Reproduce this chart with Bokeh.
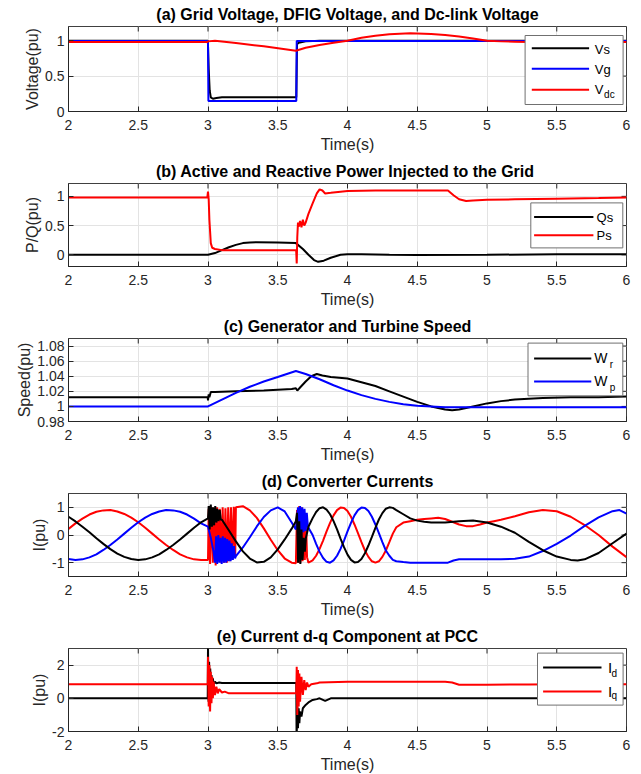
from bokeh.plotting import figure
from bokeh.layouts import column
from bokeh.models import Range1d, FixedTicker
from bokeh.core.properties import value
from bokeh.embed import file_html
from bokeh.resources import INLINE

FONT = "Liberation Sans"

# ---------------- data ----------------
x_ticks = [2, 2.5, 3, 3.5, 4, 4.5, 5, 5.5, 6]
x_tick_labels = ["2", "2.5", "3", "3.5", "4", "4.5", "5", "5.5", "6"]

# (a) voltages
t_vs = [2.0, 2.999, 3.005, 3.012, 3.02, 3.035, 3.06, 3.1, 3.3, 3.633, 3.638, 3.65, 3.7, 3.8, 6.0]
vs = [1.0, 1.0, 0.6, 0.3, 0.2, 0.18, 0.19, 0.2, 0.2, 0.2, 0.95, 0.97, 0.99, 1.0, 1.0]
t_vg = [2.0, 3.0, 3.003, 3.633, 3.636, 6.0]
vg = [0.995, 0.995, 0.15, 0.15, 0.995, 0.995]
t_vdc = [2.0, 2.995, 3.0, 3.05, 3.2, 3.4, 3.63, 3.7, 3.8, 3.9, 4.0, 4.1, 4.2, 4.3, 4.45,
         4.6, 4.7, 4.8, 4.9, 5.0, 5.1, 5.2, 5.3, 5.5, 6.0]
vdc = [0.98, 0.98, 0.99, 1.0, 0.966, 0.92, 0.857, 0.9, 0.94, 0.97, 1.0, 1.04, 1.07, 1.09, 1.105,
       1.095, 1.08, 1.06, 1.03, 1.0, 0.99, 0.985, 0.98, 0.98, 0.98]

# (b) powers
t_qs = [2.0, 3.0, 3.05, 3.1, 3.15, 3.2, 3.25, 3.3, 3.35, 3.5, 3.63, 3.68, 3.72, 3.76, 3.79,
        3.83, 3.88, 3.95, 4.0, 4.1, 4.3, 4.5, 5.0, 5.5, 6.0]
qs = [0.0, 0.0, 0.03, 0.08, 0.13, 0.17, 0.2, 0.21, 0.215, 0.21, 0.2, 0.1, 0.0, -0.09, -0.12,
      -0.1, -0.05, 0.0, 0.01, 0.01, 0.0, -0.005, 0.0, 0.01, 0.01]
t_ps = [2.0, 2.995, 3.0, 3.005, 3.01, 3.02, 3.03, 3.05, 3.1, 3.3, 3.5, 3.632, 3.636, 3.64,
        3.645, 3.65, 3.66, 3.67, 3.68, 3.69, 3.70, 3.72, 3.75, 3.78, 3.8, 3.82, 3.84, 3.88,
        3.95, 4.0, 4.2, 4.5, 4.7, 4.72, 4.76, 4.8, 4.85, 4.9, 5.0, 5.2, 5.5, 5.8, 6.0]
ps = [0.98, 0.98, 1.08, 0.95, 0.6, 0.2, 0.12, 0.1, 0.08, 0.08, 0.08, 0.08, -0.15, 0.3,
      0.55, 0.48, 0.58, 0.47, 0.6, 0.5, 0.55, 0.7, 0.88, 1.05, 1.12, 1.1, 1.05, 1.06,
      1.08, 1.09, 1.1, 1.1, 1.1, 1.1, 1.02, 0.95, 0.92, 0.93, 0.94, 0.95, 0.96, 0.97, 0.98]

# (c) speeds
t_wr = [2.0, 2.998, 3.0, 3.005, 3.01, 3.02, 3.05, 3.2, 3.4, 3.6, 3.63, 3.64, 3.66, 3.7, 3.74,
        3.78, 3.82, 3.88, 4.0, 4.1, 4.2, 4.3, 4.4, 4.5, 4.6, 4.7, 4.75, 4.8, 4.9, 5.0, 5.1,
        5.2, 5.3, 5.4, 5.6, 5.8, 6.0]
wr = [1.012, 1.012, 1.008, 1.016, 1.012, 1.019, 1.019, 1.02, 1.021, 1.023, 1.024, 1.021,
      1.025, 1.033, 1.04, 1.043, 1.041, 1.039, 1.037, 1.032, 1.027, 1.02, 1.013, 1.006,
      1.0, 0.996, 0.995, 0.996, 1.0, 1.004, 1.007, 1.009, 1.01, 1.011, 1.012, 1.012, 1.013]
t_wp = [2.0, 3.0, 3.1, 3.2, 3.3, 3.4, 3.5, 3.63, 3.7, 3.8, 3.9, 4.0, 4.1, 4.2, 4.3, 4.4,
        4.5, 4.6, 4.7, 5.0, 6.0]
wp = [1.0, 1.0, 1.009, 1.018, 1.026, 1.033, 1.039, 1.047, 1.043, 1.036, 1.028, 1.021,
      1.015, 1.01, 1.006, 1.003, 1.001, 1.0, 0.999, 0.999, 0.999]

# (d) converter currents (phase a red, phase b blue, phase c black)
t_ia = [2.0, 2.05, 2.1, 2.15, 2.2, 2.25, 2.3, 2.35, 2.4, 2.45, 2.5, 2.55, 2.6, 2.65, 2.7,
        2.75, 2.8, 2.85, 2.9, 2.95, 3.0,
        3.005, 3.015, 3.025, 3.035, 3.045, 3.055, 3.065, 3.075, 3.085, 3.095,
        3.105, 3.115, 3.125, 3.135, 3.145, 3.155, 3.165, 3.175, 3.185, 3.195,
        3.2, 3.25, 3.3, 3.35, 3.4, 3.45, 3.5, 3.55, 3.6, 3.63,
        3.638, 3.646, 3.654, 3.662, 3.670, 3.678, 3.686, 3.694, 3.702, 3.71,
        3.72, 3.75, 3.775, 3.8, 3.825, 3.85, 3.875, 3.9, 3.925, 3.95, 3.975, 4.0, 4.025,
        4.05, 4.075, 4.1, 4.125, 4.15, 4.175, 4.2, 4.225, 4.25, 4.275, 4.3, 4.325, 4.35,
        4.4, 4.45, 4.5, 4.55, 4.6, 4.65, 4.7, 4.75, 4.8, 4.85, 4.9, 4.95, 5.0, 5.05,
        5.1, 5.2, 5.3, 5.4, 5.5, 5.6, 5.7, 5.8, 5.9, 6.0]
ia = [0.22, 0.42, 0.59, 0.74, 0.84, 0.89, 0.90, 0.85, 0.76, 0.63, 0.46, 0.26, 0.05, -0.16, -0.36,
      -0.54, -0.70, -0.81, -0.88, -0.9, -0.9,
      0.95, -1.05, 1.0, -1.0, 0.98, -1.1, 1.0, -0.95, 0.95, -1.0,
      1.0, -1.0, 0.97, -1.0, 1.0, -0.95, 1.0, -0.9, 1.02, -0.8,
      1.0, 1.04, 0.89, 0.62, 0.24, -0.17, -0.55, -0.85, -1.0, -1.02,
      0.9, -1.0, 1.05, -1.0, 1.0, -0.95, 0.9, -0.9, 0.6, -0.8,
      -1.0, -0.92, -0.75, -0.5, -0.2, 0.13, 0.44, 0.71, 0.9, 0.99, 0.98, 0.87, 0.66,
      0.38, 0.07, -0.26, -0.56, -0.79, -0.95, -1.0, -0.95, -0.79, -0.56, -0.26, 0.05, 0.28,
      0.45, 0.5, 0.55, 0.58, 0.6, 0.62, 0.58, 0.48, 0.38, 0.32, 0.32, 0.38, 0.45, 0.5,
      0.55, 0.68, 0.82, 0.9, 0.86, 0.66, 0.36, 0.0, -0.42, -0.8]

t_ib = [2.0, 2.05, 2.1, 2.15, 2.2, 2.25, 2.3, 2.35, 2.4, 2.45, 2.5, 2.55, 2.6, 2.65, 2.7,
        2.75, 2.8, 2.85, 2.9, 2.95, 3.0,
        3.02, 3.04, 3.05, 3.058, 3.066, 3.074, 3.082, 3.09, 3.098, 3.106, 3.114, 3.122,
        3.13, 3.138, 3.146, 3.154, 3.162, 3.17, 3.178, 3.186, 3.194, 3.2,
        3.25, 3.3, 3.35, 3.4, 3.45, 3.5, 3.55, 3.6, 3.63,
        3.645, 3.652, 3.66, 3.668, 3.676, 3.684, 3.692, 3.7, 3.708, 3.716,
        3.75, 3.775, 3.8, 3.825, 3.85, 3.875, 3.9, 3.925, 3.95, 3.975, 4.0, 4.025, 4.05,
        4.075, 4.1, 4.125, 4.15, 4.175, 4.2, 4.225, 4.25, 4.275, 4.3, 4.325, 4.35, 4.4, 4.45,
        4.72, 4.76, 4.8, 5.1, 5.2, 5.3, 5.4, 5.5, 5.6, 5.7, 5.8, 5.9, 5.95, 6.0]
ib = [-0.87, -0.9, -0.88, -0.81, -0.70, -0.54, -0.36, -0.16, 0.05, 0.26, 0.46, 0.63, 0.76, 0.85, 0.90,
      0.89, 0.84, 0.74, 0.59, 0.42, 0.3,
      -0.1, -0.6, -1.0, -0.05, -1.05, 0.0, -1.0, -0.1, -1.05, -0.05, -1.0, -0.1,
      -1.0, -0.15, -0.95, -0.2, -0.95, -0.3, -0.9, -0.4, -0.85, -0.76,
      -0.45, -0.08, 0.31, 0.65, 0.89, 1.0, 0.85, 0.45, 0.2,
      1.0, 0.05, 1.05, 0.0, 1.0, 0.1, 0.95, 0.15, 0.8, 0.3,
      0.0, -0.32, -0.61, -0.83, -0.97, -1.0, -0.92, -0.75, -0.5, -0.2, 0.13, 0.44, 0.71,
      0.9, 0.99, 0.98, 0.87, 0.66, 0.38, 0.07, -0.26, -0.56, -0.75, -0.9, -0.95, -0.98, -1.0,
      -1.0, -0.92, -0.88, -0.88, -0.86, -0.78, -0.58, -0.32, -0.02, 0.33, 0.64, 0.86, 0.9, 0.77]

t_ic = [2.0, 2.05, 2.1, 2.15, 2.2, 2.25, 2.3, 2.35, 2.4, 2.45, 2.5, 2.55, 2.6, 2.65, 2.7,
        2.75, 2.8, 2.85, 2.9, 2.95, 3.0,
        3.005, 3.012, 3.02, 3.028, 3.036, 3.044, 3.052, 3.06, 3.068, 3.076, 3.084, 3.092, 3.1,
        3.15, 3.2, 3.25, 3.3, 3.35, 3.4, 3.45, 3.5, 3.55, 3.6, 3.63,
        3.638, 3.646, 3.654, 3.662, 3.67, 3.678, 3.686, 3.694, 3.702,
        3.72, 3.75, 3.775, 3.8, 3.825, 3.85, 3.875, 3.9, 3.925, 3.95, 3.975, 4.0, 4.025,
        4.05, 4.075, 4.1, 4.125, 4.15, 4.175, 4.2, 4.225, 4.25, 4.275, 4.3, 4.325, 4.35,
        4.4, 4.45, 4.5, 4.55, 4.6, 4.7, 4.8, 4.9, 5.0, 5.1, 5.2, 5.3, 5.4, 5.5, 5.6,
        5.65, 5.7, 5.8, 5.9, 6.0]
ic = [0.66, 0.49, 0.30, 0.10, -0.12, -0.32, -0.51, -0.67, -0.79, -0.87, -0.90, -0.88, -0.81, -0.70, -0.54,
      -0.36, -0.16, 0.05, 0.26, 0.46, 0.60,
      1.05, 0.2, 1.1, 0.3, 1.0, 0.35, 1.05, 0.45, 0.95, 0.5, 0.9, 0.55, 0.55,
      0.16, -0.23, -0.59, -0.85, -0.99, -0.97, -0.81, -0.52, -0.16, 0.23, 0.5,
      0.8, -1.0, 0.5, -1.05, 0.2, -0.9, -0.1, -0.6, -0.1,
      0.3, 0.61, 0.83, 0.97, 1.0, 0.92, 0.75, 0.5, 0.2, -0.13, -0.44, -0.71, -0.9,
      -0.99, -0.98, -0.87, -0.66, -0.38, -0.07, 0.26, 0.56, 0.79, 0.95, 1.0, 0.98, 0.9,
      0.75, 0.6, 0.52, 0.48, 0.45, 0.45, 0.5, 0.52, 0.45, 0.3, 0.08, -0.25, -0.55, -0.78, -0.9,
      -0.92, -0.88, -0.65, -0.3, 0.05]

# (e) d-q currents at PCC
t_id = [2.0, 2.998, 3.0, 3.004, 3.008, 3.012, 3.016, 3.02, 3.025, 3.03, 3.035, 3.04, 3.05,
        3.06, 3.08, 3.1, 3.633, 3.635, 3.64, 3.645, 3.65, 3.655, 3.66, 3.67, 3.68, 3.7,
        3.72, 3.75, 3.78, 3.8, 3.84, 3.88, 3.95, 6.0]
id_ = [0.0, 0.0, 3.2, -0.2, 2.2, 0.2, 1.8, 0.5, 1.4, 0.7, 1.2, 0.85, 1.0,
       0.9, 0.95, 0.92, 0.92, -2.5, -0.5, -1.8, -0.6, -1.5, -0.8, -1.1, -0.6, -0.4,
       -0.25, -0.1, -0.05, 0.0, -0.15, 0.0, 0.0, 0.0]
t_iq = [2.0, 2.998, 3.0, 3.005, 3.01, 3.015, 3.02, 3.025, 3.03, 3.035, 3.04, 3.05, 3.06,
        3.07, 3.08, 3.1, 3.12, 3.15, 3.633, 3.636, 3.64, 3.645, 3.65, 3.655, 3.66, 3.67,
        3.68, 3.69, 3.7, 3.71, 3.72, 3.74, 3.78, 3.8, 4.0, 4.7, 4.75, 4.8, 5.0, 5.3, 5.5, 6.0]
iq = [0.85, 0.85, 2.5, -0.5, 2.0, -0.8, 1.6, -0.3, 1.3, 0.0, 1.0, 0.2, 0.7,
      0.3, 0.55, 0.35, 0.4, 0.3, 0.3, 1.9, -1.0, 1.7, -0.5, 1.5, -0.2, 1.3,
      0.2, 1.1, 0.5, 0.95, 0.7, 0.85, 0.9, 0.95, 1.0, 1.0, 0.95, 0.82, 0.82, 0.83, 0.85, 0.85]

BLACK, BLUE, RED = "#000000", "#0000ff", "#ff0000"
AXC = "#262626"
FRAME_W = 558
TICK_LEN = 5


def make_fig(title, ylabel, y0, y1, yticks, ylabels, frame_h, top, bottom, xlab_standoff=3):
    p = figure(frame_width=FRAME_W, frame_height=frame_h, x_range=Range1d(2, 6),
               y_range=Range1d(y0, y1), output_backend="svg", toolbar_location=None,
               min_border_left=68, min_border_right=8, min_border_top=top,
               min_border_bottom=bottom, title=title)
    p.title.text_font = FONT
    p.title.text_font_size = "16px"
    p.title.text_font_style = "bold"
    p.title.text_color = "#000000"
    p.title.align = "center"
    p.title.standoff = 7
    p.title.offset = 0
    p.outline_line_color = "#404040"
    p.outline_line_width = 1
    p.background_fill_color = "white"
    p.border_fill_color = "white"

    xa = p.xaxis[0]
    xa.ticker = FixedTicker(ticks=x_ticks)
    xa.major_label_overrides = dict(zip(x_ticks, x_tick_labels))
    xa.axis_label = "Time(s)"
    ya = p.yaxis[0]
    ya.ticker = FixedTicker(ticks=yticks)
    ya.major_label_overrides = dict(zip(yticks, ylabels))
    ya.axis_label = ylabel
    for ax in (xa, ya):
        ax.major_tick_in = TICK_LEN
        ax.major_tick_out = 0
        ax.minor_tick_line_color = None
        ax.axis_line_color = AXC
        ax.major_tick_line_color = AXC
        ax.major_label_text_font = FONT
        ax.major_label_text_font_size = "14px"
        ax.major_label_text_color = AXC
        ax.axis_label_text_font = FONT
        ax.axis_label_text_font_size = "16px"
        ax.axis_label_text_font_style = "normal"
        ax.axis_label_text_color = AXC
    xa.major_label_standoff = 8
    xa.axis_label_standoff = xlab_standoff
    ya.major_label_standoff = 4
    ya.axis_label_standoff = 1

    # mirrored ticks on the top and right edges (box on)
    dy = (y1 - y0) * TICK_LEN / frame_h
    dx = 4.0 * TICK_LEN / FRAME_W
    p.segment(x0=x_ticks, y0=[y1] * len(x_ticks), x1=x_ticks, y1=[y1 - dy] * len(x_ticks),
              line_color=AXC, line_width=1)
    p.segment(x0=[6] * len(yticks), y0=yticks, x1=[6 - dx] * len(yticks), y1=yticks,
              line_color=AXC, line_width=1)

    p.xgrid.ticker = FixedTicker(ticks=x_ticks)
    p.ygrid.ticker = FixedTicker(ticks=yticks)
    for g in (p.xgrid[0], p.ygrid[0]):
        g.grid_line_color = "#e3e3e3"
        g.grid_line_width = 1
    p._geom = (y0, y1, frame_h)
    return p


def px(p, dx, dy):
    """convert an offset in pixels from the frame's top-left corner to data units"""
    y0, y1, fh = p._geom
    return 2 + dx * 4.0 / FRAME_W, y1 - dy * (y1 - y0) / fh


def legend_box(p, box, entries, fsize, subs=()):
    # box = (left, right, top, bottom) pixel offsets from the frame's top-left corner
    l, t = px(p, box[0], box[2])
    r, b = px(p, box[1], box[3])
    p.quad(left=[l], right=[r], top=[t], bottom=[b], fill_color="white", fill_alpha=1.0,
           line_color="#707070", line_width=1)
    for color, ly, lx0, lx1, label, tx, ty in entries:
        xa_, ya_ = px(p, lx0, ly)
        xb_, _ = px(p, lx1, ly)
        p.line([xa_, xb_], [ya_, ya_], line_color=color, line_width=2)
        xt, yt = px(p, tx, ty)
        p.text(x=[xt], y=[yt], text=[label], text_font=value(FONT),
               text_font_size=value(fsize), text_baseline="middle", text_align="left",
               text_color="#000000")
    for label, sx, sy in subs:
        xt, yt = px(p, sx, sy)
        p.text(x=[xt], y=[yt], text=[label], text_font=value(FONT),
               text_font_size=value("10px"), text_baseline="middle", text_align="left",
               text_color="#000000")


# ---- (a)
pa = make_fig("(a) Grid Voltage, DFIG Voltage, and Dc-link Voltage", "Voltage(pu)",
              0, 1.2, [0, 0.5, 1], ["0", "0.5", "1"], 85, 26, 46)
pa.line(t_vs, vs, line_color=BLACK, line_width=2)
pa.line(t_vg, vg, line_color=BLUE, line_width=2)
pa.line(t_vdc, vdc, line_color=RED, line_width=2)
legend_box(pa, (456.6, 554.6, 9, 78),
           [(BLACK, 21.7, 463.3, 520.6, "Vs", 526.3, 22.5),
            (BLUE, 42.3, 463.3, 520.6, "Vg", 526.3, 43.0),
            (RED, 63.3, 463.3, 520.6, "V", 526.3, 62.5)],
           "13px", subs=[("dc", 535.6, 68.0)])

# ---- (b)
pb = make_fig("(b) Active and Reactive Power Injected to  the Grid", "P/Q(pu)",
              -0.2, 1.22, [0, 0.5, 1], ["0", "0.5", "1"], 83, 26, 46)
pb.line(t_qs, qs, line_color=BLACK, line_width=2)
pb.line(t_ps, ps, line_color=RED, line_width=2)
legend_box(pb, (462.3, 554.3, 19.4, 64.4),
           [(BLACK, 33.4, 465.6, 524.9, "Qs", 528.1, 34.0),
            (RED, 51.7, 465.6, 524.9, "Ps", 528.1, 52.3)],
           "13px")

# ---- (c)
pc = make_fig("(c) Generator and Turbine Speed", "Speed(pu)",
              0.98, 1.09, [0.98, 1, 1.02, 1.04, 1.06, 1.08],
              ["0.98", "1", "1.02", "1.04", "1.06", "1.08"], 83, 26, 46)
pc.line(t_wr, wr, line_color=BLACK, line_width=2)
pc.line(t_wp, wp, line_color=BLUE, line_width=2)
legend_box(pc, (459.5, 554.3, 4.6, 57.3),
           [(BLACK, 20.0, 465.6, 522.8, "W", 525.7, 19.5),
            (BLUE, 43.0, 465.6, 522.8, "W", 525.7, 42.5)],
           "14px", subs=[("r", 541.3, 25.6), ("p", 541.3, 48.5)])

# ---- (d)
pd_ = make_fig("(d) Converter Currents", "I(pu)", -1.5, 1.5, [-1, 0, 1], ["-1", "0", "1"],
               83, 26, 46)
pd_.line(t_ia, ia, line_color=RED, line_width=2)
pd_.line(t_ib, ib, line_color=BLUE, line_width=2)
pd_.line(t_ic, ic, line_color=BLACK, line_width=2)

# ---- (e)
pe = make_fig("(e) Current d-q Component at PCC", "I(pu)", -2, 3, [-2, 0, 2], ["-2", "0", "2"],
              83, 26, 42)
pe.line(t_id, id_, line_color=BLACK, line_width=2)
pe.line(t_iq, iq, line_color=RED, line_width=2)
legend_box(pe, (469.0, 554.6, 4.6, 56.6),
           [(BLACK, 19.0, 474.6, 533.0, "I", 539.6, 18.5),
            (RED, 43.0, 474.6, 533.0, "I", 539.6, 42.5)],
           "15px", subs=[("d", 543.0, 24.6), ("q", 543.0, 46.5)])

layout = column(pa, pb, pc, pd_, pe, spacing=0)
open("out.html", "w").write(file_html(layout, INLINE))
